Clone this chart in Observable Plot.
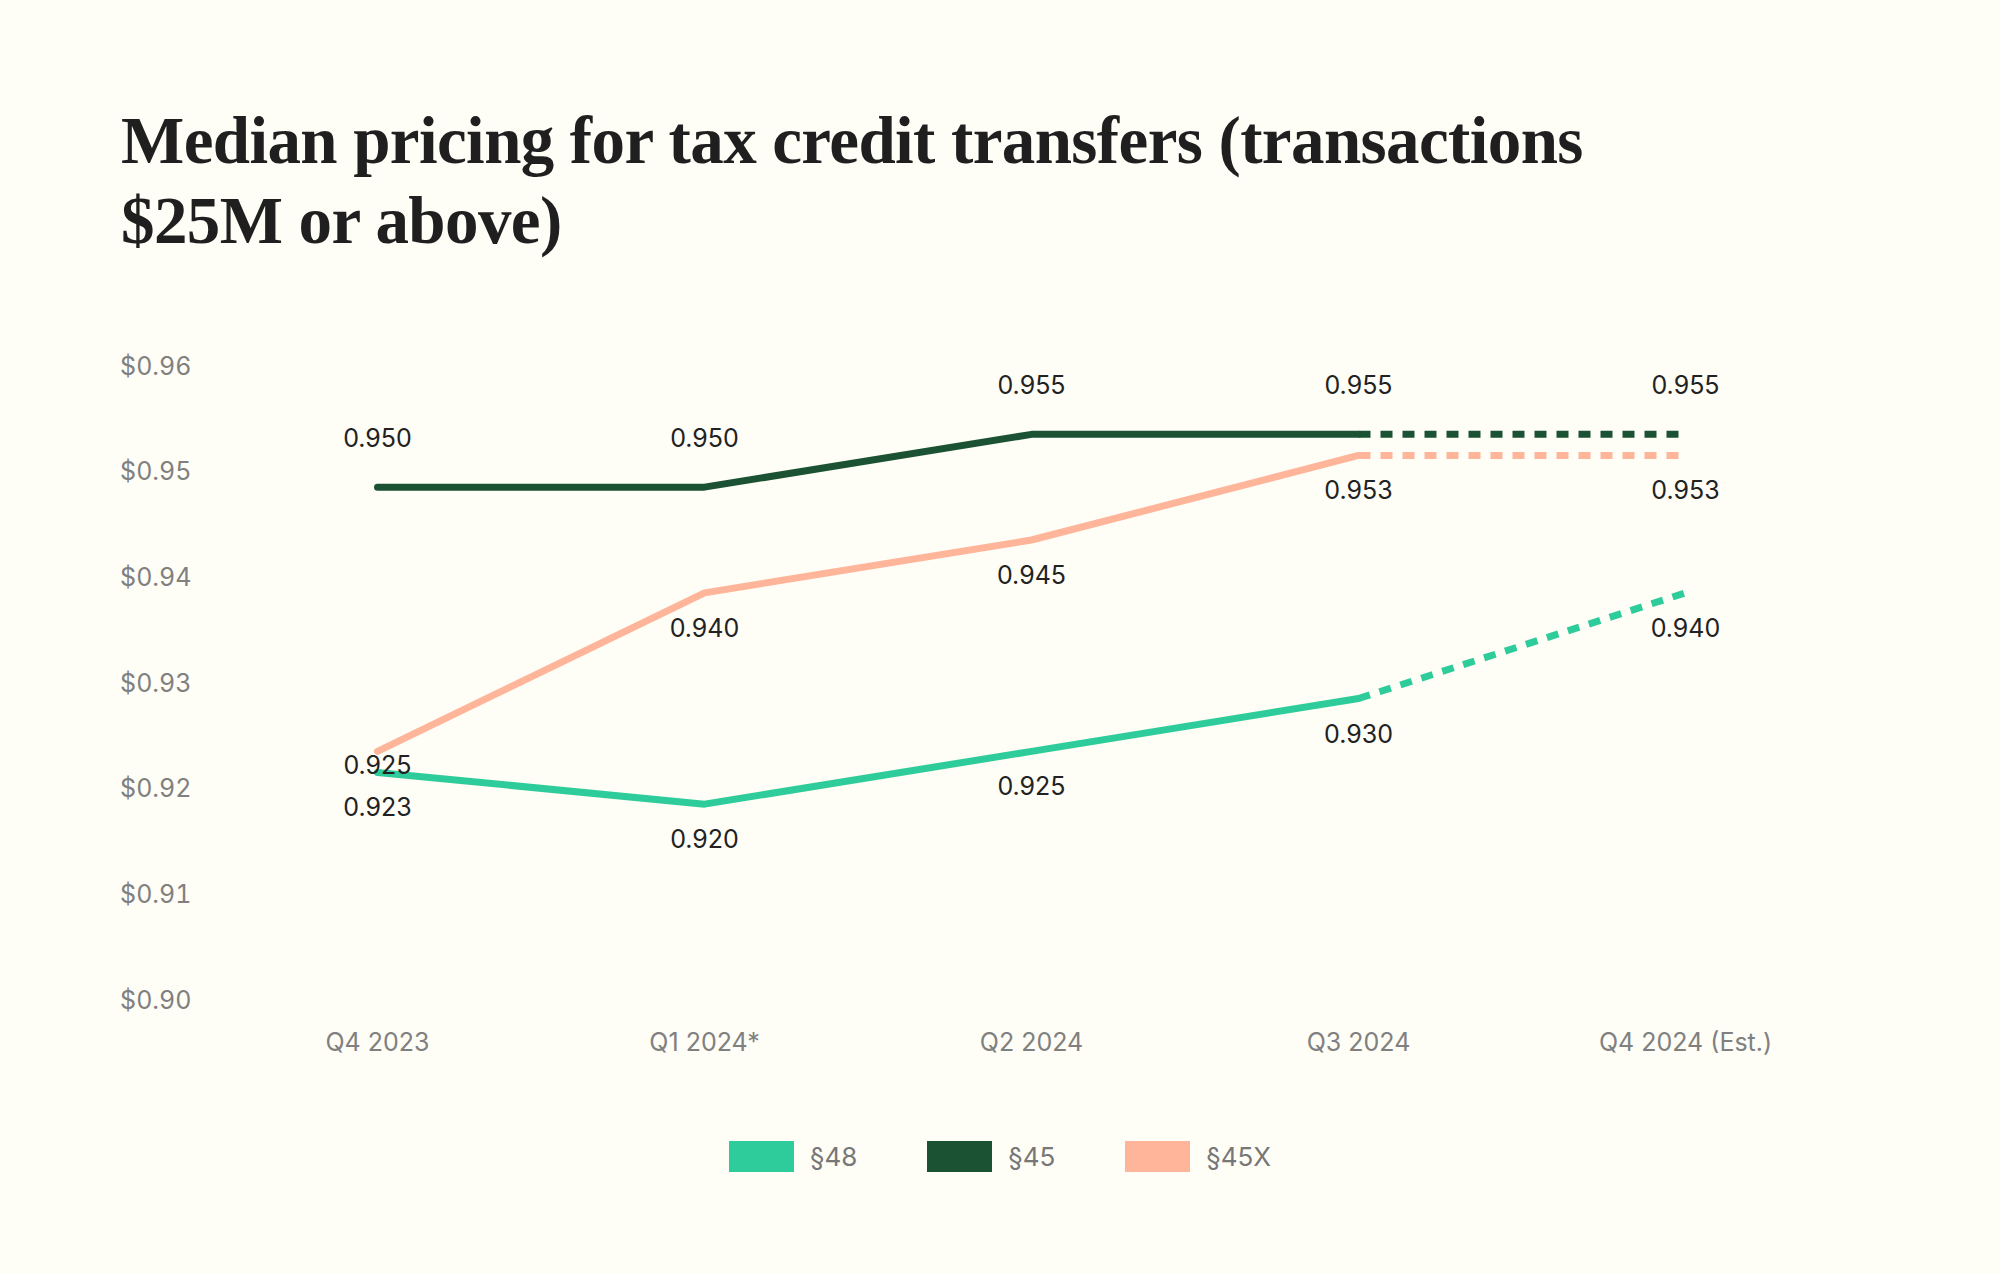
<!DOCTYPE html>
<html>
<head>
<meta charset="utf-8">
<script src="https://cdn.jsdelivr.net/npm/d3@7"></script>
<script src="https://cdn.jsdelivr.net/npm/@observablehq/plot@0.6"></script>
<style>
  html, body { margin: 0; padding: 0; background: #FEFDF6; }
  #root { position: relative; width: 2000px; height: 1274px; background: #FEFDF6; overflow: hidden; }
  #title { position: absolute; left: 121px; top: 100px; width: 1750px;
    font-family: "Liberation Serif", serif; font-weight: 700; font-size: 67px; line-height: 80px;
    color: #1f1f1f; letter-spacing: -0.6px; }
  #chart { position: absolute; left: 0; top: 300px; }
  #legend { position: absolute; left: 0; top: 1141px; width: 2000px; display: flex; justify-content: center;
    gap: 70px; font-family: Inter, sans-serif; font-size: 26px; color: #777; }
  .item { display: flex; align-items: center; gap: 16px; height: 31px; }
  .sw { width: 65px; height: 31px; }
</style>
</head>
<body>
<div id="root">
  <div id="title">Median pricing for tax credit transfers (transactions<br>$25M or above)</div>
  <div id="chart"></div>
  <div id="legend"></div>
</div>
<script>
const quarters = ["Q4 2023", "Q1 2024*", "Q2 2024", "Q3 2024", "Q4 2024 (Est.)"];
const seriesNames = ["§48", "§45", "§45X"];
const s48  = [0.923, 0.920, 0.925, 0.930, 0.940];
const s45  = [0.950, 0.950, 0.955, 0.955, 0.955];
const s45X = [0.925, 0.940, 0.945, 0.953, 0.953];
const yTicks = [0.90, 0.91, 0.92, 0.93, 0.94, 0.95, 0.96];
const seriesColors = ["#2ECC9A", "#1B5233", "#FFB599"];

const seriesValues = [s48, s45, s45X];
const rows = [];
seriesNames.forEach((name, si) => {
  seriesValues[si].forEach((v, i) => rows.push({series: name, quarter: quarters[i], qi: i, value: v}));
});
const lastI = quarters.length - 1;
const solid = rows.filter(d => d.qi <= lastI - 1);
const dashed = rows.filter(d => d.qi >= lastI - 1);

const aboveSeries = "§45";
const above = rows.filter(d => d.series === aboveSeries);
const belowAll = rows.filter(d => d.series !== aboveSeries);
// a below-label that would collide with a nearby lower point gets tucked closer
const crowded = d => belowAll.some(o => o !== d && o.qi === d.qi && o.value < d.value && d.value - o.value < 0.004);
const below = belowAll.filter(d => !crowded(d));
const belowTight = belowAll.filter(d => crowded(d));
const fmt = d3.format(".3f");

const labelFont = "Inter, sans-serif";
const plot = Plot.plot({
  width: 2000,
  height: 784,
  marginTop: 81,
  marginBottom: 69,
  marginLeft: 200,
  marginRight: 200,
  style: {background: "transparent", fontFamily: labelFont},
  x: {type: "point", domain: quarters, range: [376, 1686], padding: 0, axis: null},
  y: {domain: [0.90, 0.96], axis: null},
  color: {domain: seriesNames, range: seriesColors},
  marks: [
    Plot.axisY({ticks: yTicks, tickFormat: d3.format("$.2f"), tickSize: 0, tickPadding: 9, dy: -15,
      fontSize: 25, fill: "#808080", fontFamily: labelFont, label: null}),
    Plot.axisX({tickSize: 0, tickPadding: 18, fontSize: 25, fill: "#808080", fontFamily: labelFont, label: null}),
    Plot.line(solid, {x: "quarter", y: "value", z: "series", stroke: "series", strokeWidth: 7,
      strokeLinecap: "round", strokeLinejoin: "round"}),
    Plot.line(dashed, {x: "quarter", y: "value", z: "series", stroke: "series", strokeWidth: 7,
      strokeDasharray: "12,10", strokeLinecap: "butt"}),
    Plot.text(above, {x: "quarter", y: "value", text: d => fmt(d.value), dy: -48, fontSize: 25, fill: "#222"}),
    Plot.text(below, {x: "quarter", y: "value", text: d => fmt(d.value), dy: 36, fontSize: 25, fill: "#222"}),
    Plot.text(belowTight, {x: "quarter", y: "value", text: d => fmt(d.value), dy: 15, fontSize: 25, fill: "#222"})
  ]
});
document.getElementById("chart").appendChild(plot);

const legend = document.getElementById("legend");
seriesNames.forEach((name, i) => {
  const item = document.createElement("div");
  item.className = "item";
  const sw = document.createElement("div");
  sw.className = "sw";
  sw.style.background = seriesColors[i];
  const t = document.createElement("span");
  t.textContent = name;
  item.appendChild(sw);
  item.appendChild(t);
  legend.appendChild(item);
});
</script>
</body>
</html>
